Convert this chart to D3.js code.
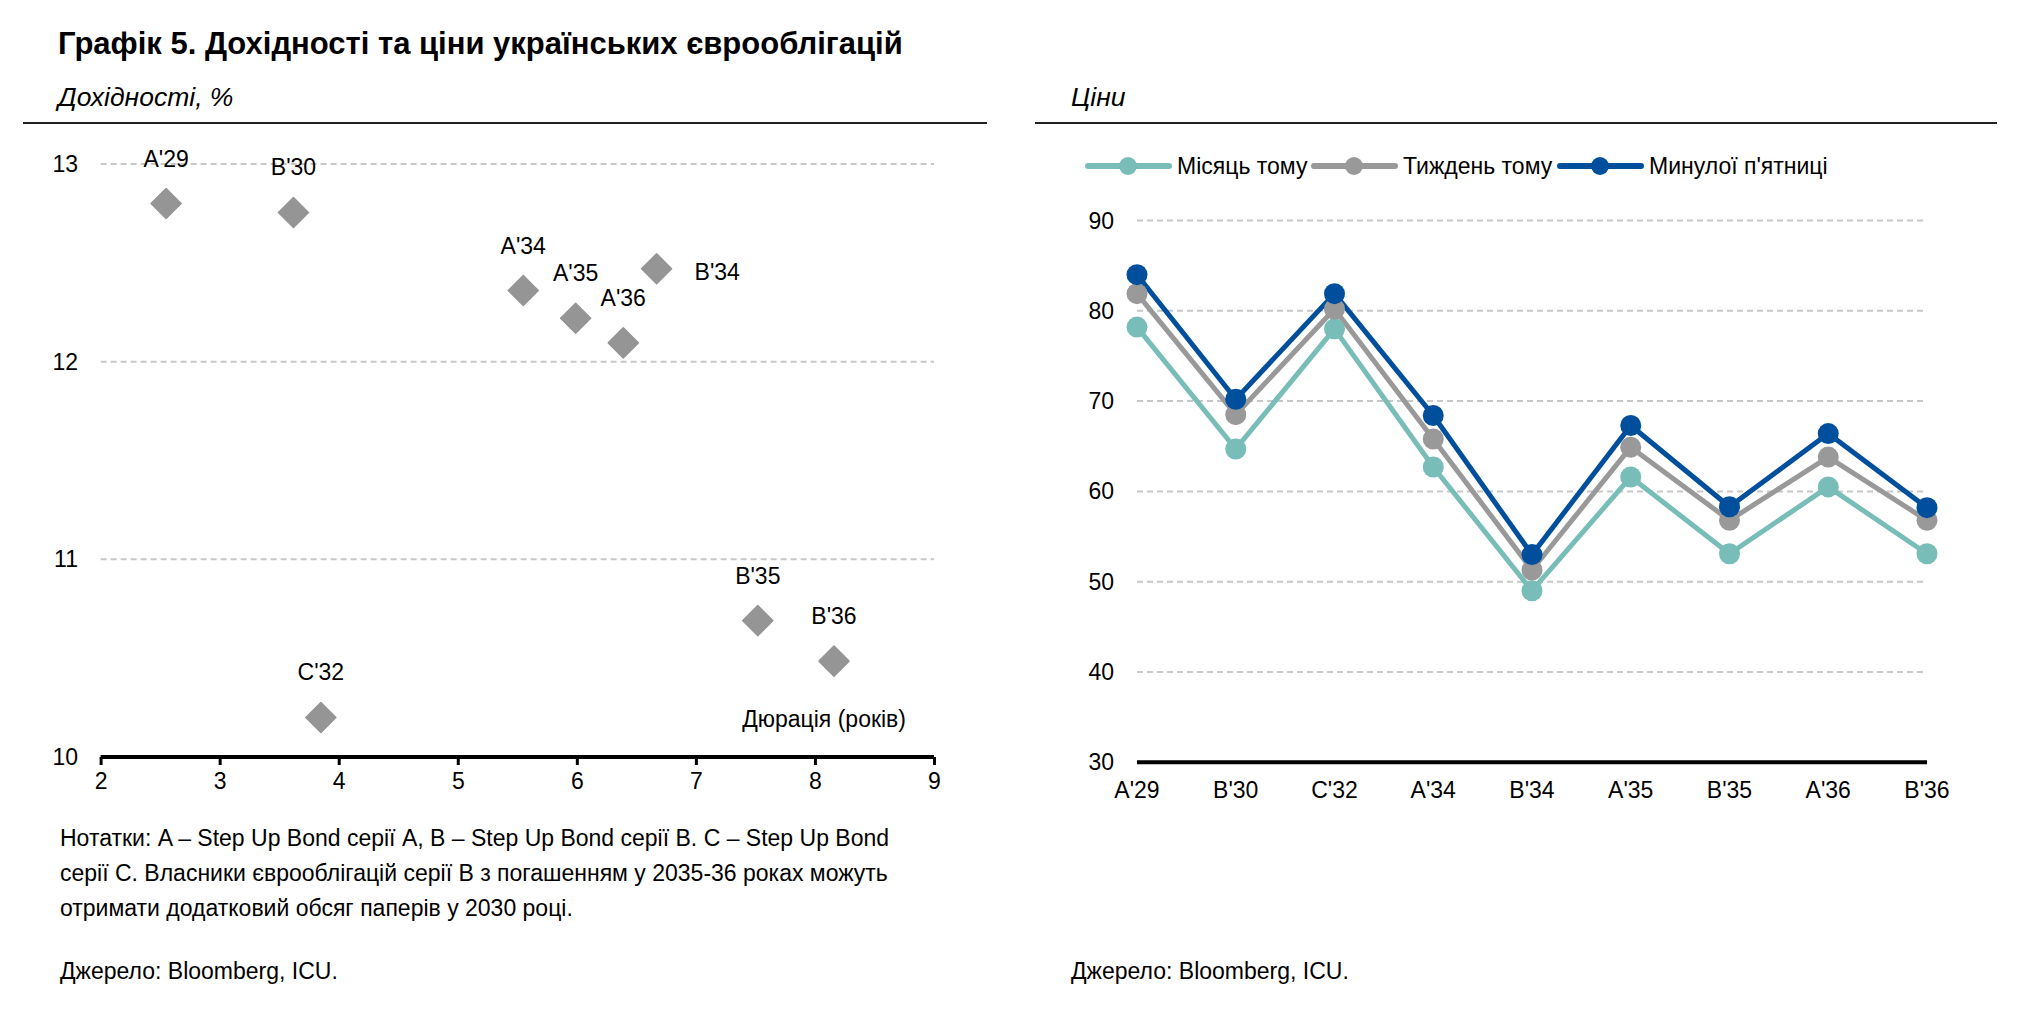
<!DOCTYPE html>
<html>
<head>
<meta charset="utf-8">
<script src="https://cdn.jsdelivr.net/npm/d3@7"></script>
<style>
  body { margin: 0; background: #fff; }
  svg text { font-family: "Liberation Sans Narrow", "Arial Narrow", "Liberation Sans", sans-serif; fill: #000; }
</style>
</head>
<body>
<div id="chart"></div>
<script>
const width = 2023;
const height = 1011;

// left panel: yield vs duration
const bonds = ["A'29", "B'30", "C'32", "A'34", "A'35", "A'36", "B'34", "B'35", "B'36"];
const durations = [2.55, 3.62, 3.85, 5.55, 5.99, 6.39, 6.67, 7.52, 8.16];
const yields = [12.80, 12.755, 10.20, 12.36, 12.22, 12.095, 12.47, 10.69, 10.485];
const labelRight = ["B'34"];
const xTicksLeft = [2, 3, 4, 5, 6, 7, 8, 9];
const yTicksLeft = [10, 11, 12, 13];

// right panel: prices
const categories = ["A'29", "B'30", "C'32", "A'34", "B'34", "A'35", "B'35", "A'36", "B'36"];
const seriesNames = ["Місяць тому", "Тиждень тому", "Минулої п'ятниці"];
const monthAgo = [78.2, 64.7, 78.0, 62.7, 49.0, 61.6, 53.1, 60.5, 53.1];
const weekAgo = [81.9, 68.5, 80.2, 65.8, 51.3, 64.9, 56.8, 63.8, 56.8];
const lastFriday = [84.0, 70.2, 81.9, 68.4, 53.0, 67.3, 58.3, 66.4, 58.2];
const yTicksRight = [30, 40, 50, 60, 70, 80, 90];

const colors = ["#78bdb8", "#999999", "#004f9c"];

const svg = d3.select("#chart")
  .append("svg")
  .attr("width", width)
  .attr("height", height);

// titles
svg.append("text")
  .attr("x", 58).attr("y", 54)
  .attr("font-size", 31).attr("font-weight", "bold")
  .text("Графік 5. Дохідності та ціни українських єврооблігацій");

svg.append("text")
  .attr("x", 58).attr("y", 106)
  .attr("font-size", 26.5).attr("font-style", "italic")
  .text("Дохідності, %");

svg.append("text")
  .attr("x", 1071).attr("y", 106)
  .attr("font-size", 26.5).attr("font-style", "italic")
  .text("Ціни");

svg.append("line")
  .attr("x1", 23).attr("x2", 987).attr("y1", 123).attr("y2", 123)
  .attr("stroke", "#222").attr("stroke-width", 2);
svg.append("line")
  .attr("x1", 1035).attr("x2", 1997).attr("y1", 123).attr("y2", 123)
  .attr("stroke", "#222").attr("stroke-width", 2);

// ---- left scatter ----
const x1 = d3.scaleLinear().domain([2, 9]).range([100.6, 934]);
const y1 = d3.scaleLinear().domain([10, 13]).range([757, 164]);

const left = svg.append("g");

left.selectAll(".grid")
  .data(yTicksLeft.filter(d => d > 10))
  .join("line")
  .attr("x1", x1(2)).attr("x2", x1(9))
  .attr("y1", d => y1(d)).attr("y2", d => y1(d))
  .attr("stroke", "#c8c8c8").attr("stroke-width", 2)
  .attr("stroke-dasharray", "6,4");

left.selectAll(".ylab")
  .data(yTicksLeft)
  .join("text")
  .attr("x", 78).attr("y", d => y1(d) + 8)
  .attr("text-anchor", "end").attr("font-size", 23)
  .text(d => d);

const xAxis = d3.axisBottom(x1).tickValues(xTicksLeft).tickSize(8).tickPadding(8).tickFormat(d => d);
const gx = left.append("g")
  .attr("transform", `translate(0,${y1(10)})`)
  .call(xAxis);
gx.select(".domain").attr("stroke", "#000").attr("stroke-width", 4).attr("d", `M${x1(2)},0H${x1(9)}`);
gx.selectAll(".tick line").attr("stroke", "#000").attr("stroke-width", 3);
gx.selectAll(".tick text").attr("font-size", 23).attr("fill", "#000")
  .style("font-family", "'Liberation Sans Narrow', 'Arial Narrow', 'Liberation Sans', sans-serif");

const diamond = d3.symbol().type(d3.symbolSquare).size(450);
left.selectAll(".pt")
  .data(bonds)
  .join("path")
  .attr("d", diamond)
  .attr("transform", (d, i) => `translate(${x1(durations[i])},${y1(yields[i])}) rotate(45)`)
  .attr("fill", "#959595")
  .attr("stroke", "#959595").attr("stroke-width", 1.5).attr("stroke-linejoin", "round");

left.selectAll(".plab")
  .data(bonds)
  .join("text")
  .attr("font-size", 23)
  .attr("x", (d, i) => labelRight.includes(d) ? x1(durations[i]) + 38 : x1(durations[i]))
  .attr("y", (d, i) => labelRight.includes(d) ? y1(yields[i]) + 11 : y1(yields[i]) - 37)
  .attr("text-anchor", d => labelRight.includes(d) ? "start" : "middle")
  .text(d => d);

left.append("text")
  .attr("x", 906).attr("y", 727)
  .attr("text-anchor", "end").attr("font-size", 23)
  .text("Дюрація (років)");

// notes
const notes = [
  "Нотатки: A – Step Up Bond серії A, B – Step Up Bond серії B. C – Step Up Bond",
  "серії C. Власники єврооблігацій серії B з погашенням у 2035-36 роках можуть",
  "отримати додатковий обсяг паперів у 2030 році."
];
svg.selectAll(".note")
  .data(notes)
  .join("text")
  .attr("x", 60).attr("y", (d, i) => 846 + i * 35)
  .attr("font-size", 23)
  .text(d => d);

svg.append("text").attr("x", 60).attr("y", 979).attr("font-size", 23).text("Джерело: Bloomberg, ICU.");
svg.append("text").attr("x", 1071).attr("y", 979).attr("font-size", 23).text("Джерело: Bloomberg, ICU.");

// ---- right line chart ----
const x2 = d3.scalePoint().domain(categories).range([1137, 1927]).padding(0);
const y2 = d3.scaleLinear().domain([30, 90]).range([762.3, 220.5]);

const right = svg.append("g");

right.selectAll(".grid")
  .data(yTicksRight.filter(d => d > 30))
  .join("line")
  .attr("x1", x2.range()[0]).attr("x2", x2.range()[1])
  .attr("y1", d => y2(d)).attr("y2", d => y2(d))
  .attr("stroke", "#c8c8c8").attr("stroke-width", 2)
  .attr("stroke-dasharray", "6,4");

right.selectAll(".ylab")
  .data(yTicksRight)
  .join("text")
  .attr("x", 1114).attr("y", d => y2(d) + 8)
  .attr("text-anchor", "end").attr("font-size", 23)
  .text(d => d);

right.append("line")
  .attr("x1", x2.range()[0]).attr("x2", x2.range()[1])
  .attr("y1", y2(30)).attr("y2", y2(30))
  .attr("stroke", "#000").attr("stroke-width", 4);

right.selectAll(".xlab")
  .data(categories)
  .join("text")
  .attr("x", d => x2(d)).attr("y", 798)
  .attr("text-anchor", "middle").attr("font-size", 23)
  .text(d => d);

const series = [monthAgo, weekAgo, lastFriday];
const line = d3.line().x((d, i) => x2(categories[i])).y(d => y2(d));

series.forEach((vals, s) => {
  right.append("path")
    .datum(vals)
    .attr("d", line)
    .attr("fill", "none")
    .attr("stroke", colors[s]).attr("stroke-width", 5)
    .attr("stroke-linejoin", "round");
});
series.forEach((vals, s) => {
  right.selectAll(".m" + s)
    .data(vals)
    .join("circle")
    .attr("cx", (d, i) => x2(categories[i]))
    .attr("cy", d => y2(d))
    .attr("r", 10.5)
    .attr("fill", colors[s]);
});

// legend
const legendX = [1088, 1314, 1560];
const legend = right.selectAll(".leg")
  .data(seriesNames)
  .join("g")
  .attr("transform", (d, i) => `translate(${legendX[i]},166)`);
legend.append("line")
  .attr("x1", 0).attr("x2", 81).attr("y1", 0).attr("y2", 0)
  .attr("stroke", (d, i) => colors[i]).attr("stroke-width", 6).attr("stroke-linecap", "round");
legend.append("circle")
  .attr("cx", 40).attr("cy", 0).attr("r", 9)
  .attr("fill", (d, i) => colors[i]);
legend.append("text")
  .attr("x", 89).attr("y", 8).attr("font-size", 23)
  .text(d => d);
</script>
</body>
</html>
